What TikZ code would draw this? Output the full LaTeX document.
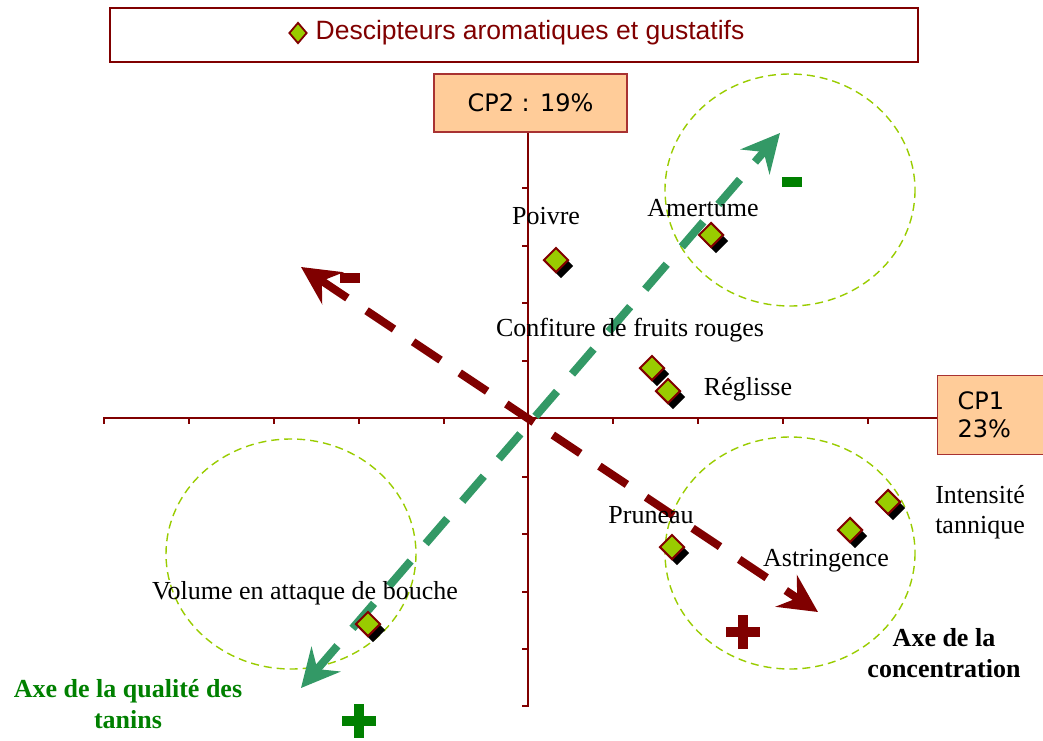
\documentclass[tikz,border=0pt]{standalone}
\usepackage{fontspec}
\setmainfont{Liberation Serif}
\newfontfamily\arialf{Liberation Sans}
\newfontfamily\verdf{DejaVu Sans}
\usetikzlibrary{arrows.meta,shapes.geometric,shadows}
\definecolor{cMaroon}{HTML}{800000}
\definecolor{cSea}{HTML}{339966}
\definecolor{cLime}{HTML}{99CC00}
\definecolor{cPeach}{HTML}{FFCC99}
\definecolor{cBorder}{HTML}{A83232}
\definecolor{cGreen}{HTML}{008000}
\begin{document}
\begin{tikzpicture}[x=1pt,y=-1pt,
  lbl/.style={inner sep=0pt, font=\fontsize{26}{30.5}\selectfont},
  pbox/.style={draw=cBorder, line width=1.2pt, fill=cPeach, inner sep=0pt, font=\verdf\fontsize{24}{28}\selectfont},
  axisline/.style={draw=cMaroon, line width=2pt},
  tickline/.style={draw=cMaroon, line width=1.6pt},
  marker/.style={diamond, aspect=1, minimum width=25pt, minimum height=25pt, inner sep=0pt,
    fill=cLime, draw=cMaroon, line width=2pt,
    drop shadow={shadow xshift=5pt, shadow yshift=-6pt, fill=black, opacity=1, draw=none}},
  circ/.style={draw=cLime, line width=1.4pt, dash pattern=on 8pt off 5pt},
  bigarrow/.style={line width=8pt, dash pattern=on 33pt off 23pt,
    {Stealth[length=38pt,width=38pt,inset=13pt]}-{Stealth[length=38pt,width=38pt,inset=13pt]}},
]
\useasboundingbox (0,0) rectangle (1043,740);

% legend
\node[draw=cMaroon, line width=2.5pt, minimum width=808pt, minimum height=54pt, inner sep=0pt] (leg) at (514,35) {};
\node[diamond, aspect=0.85, minimum width=18pt, minimum height=21pt, inner sep=0pt, fill=cLime, draw=cMaroon, line width=1.8pt] (legmark) at (298,33) {};
\node[inner sep=0pt, text=cMaroon, font=\arialf\fontsize{26.5}{30}\selectfont] (legtxt) at (530,33) {Descipteurs aromatiques et gustatifs};

% dashed circles
\draw[circ] (790,190) ellipse [x radius=125, y radius=116];
\draw[circ] (291,554) ellipse [x radius=125, y radius=115];
\draw[circ] (790,553) ellipse [x radius=125, y radius=116];

% axis boxes
\node[pbox, minimum width=193pt, minimum height=58pt] (cp2) at (530.5,103) {CP2 : 19\%};
\node[pbox, anchor=north west, minimum height=79pt, text width=80pt, inner xsep=20pt, align=left] (cp1) at (937,375) {CP1\\23\%};

% axes
\coordinate (o) at (528,418);
\coordinate (xl) at (103,418);
\coordinate (yb) at (528,707);
\draw[axisline] (xl) -- (o -| cp1.west);
\draw[axisline] (cp2.south -| o) -- (yb);
\foreach \x in {104,189,274,359,444,613,698,783,868}
  \draw[tickline] (\x,418) -- (\x,424);
\foreach \y in {188,246,303,361,477,534,592,649,706}
  \draw[tickline] (528,\y) -- (522,\y);

% big arrows
\coordinate (rA) at (301,267);
\coordinate (rB) at (818,612);
\coordinate (gA) at (301,688);
\coordinate (gB) at (780,133);
\draw[bigarrow, draw=cMaroon] (rA) -- (rB);
\draw[bigarrow, draw=cSea] (gA) -- (gB);

% signs
\fill[cMaroon] (340,273) rectangle (360,283);
\fill[cGreen] (782,177) rectangle (802,187);
\fill[cMaroon] (726,627) rectangle (760,637);
\fill[cMaroon] (738,615) rectangle (748,649);
\fill[cGreen] (342,716) rectangle (376,726);
\fill[cGreen] (354,704) rectangle (364,738);

% markers
\node[marker] (mpoivre) at (556,260) {};
\node[marker] (mamer) at (711,235) {};
\node[marker] (mconf) at (652,368) {};
\node[marker] (mregl) at (668,391) {};
\node[marker] (mprun) at (672,547) {};
\node[marker] (mastr) at (850,530) {};
\node[marker] (mint) at (888,502) {};
\node[marker] (mvol) at (368,624) {};

% labels
\node[lbl] (lpoivre) at (546,216) {Poivre};
\node[lbl] (lamer) at (703,208) {Amertume};
\node[lbl] (lconf) at (630,330) {Confiture de fruits rouges};
\node[lbl] (lregl) at (748,389) {Réglisse};
\node[lbl] (lprun) at (651,515) {Pruneau};
\node[lbl] (lastr) at (826,561) {Astringence};
\node[lbl, align=left] (lint) at (980,512) {Intensité\\tannique};
\node[lbl] (lvol) at (305,593) {Volume en attaque de bouche};
\node[lbl, align=center, font=\bfseries\fontsize{26}{31}\selectfont] (lconc) at (944,653) {Axe de la\\concentration};
\node[lbl, align=center, text=cGreen, font=\bfseries\fontsize{26}{31}\selectfont] (lqual) at (128,704) {Axe de la qualité des\\tanins};
\end{tikzpicture}
\end{document}
